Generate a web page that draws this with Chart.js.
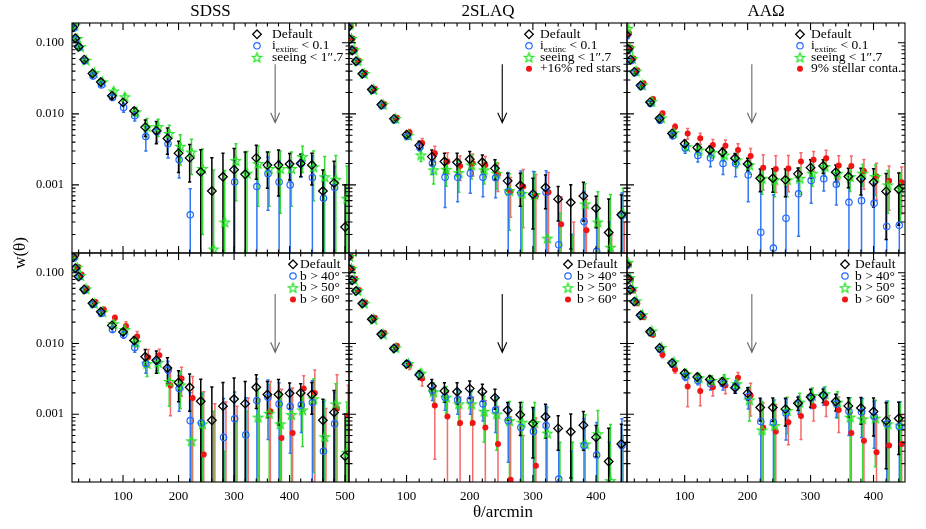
<!DOCTYPE html>
<html>
<head>
<meta charset="utf-8">
<script src="https://cdn.jsdelivr.net/npm/chart.js@4.4.1/dist/chart.umd.min.js"></script>
<style>
  html, body { margin: 0; padding: 0; background: #fff; }
  #wrap { position: relative; width: 926px; height: 529px; }
  #wrap canvas { position: absolute; left: 0; top: 0; }
</style>
</head>
<body>
<div id="wrap"></div>
<script>
// angular bins (arcmin)
const thetaSDSS = [7,10,14,20,30,45,60,80,100,120,140,160,180,200,220,240,260,280,300,320,340,360,380,400,420,440,460,480,500];
const thetaAAT = [7,10,14,20,30,45,60,80,100,120,140,160,180,200,220,240,260,280,300,320,340,360,380,400,420,440];

// SDSS
const sdssDefault = [0.22,0.165,0.116,0.088,0.058,0.037,0.028,0.018,0.0145,0.011,0.0065,0.0058,0.0045,0.0028,0.0024,0.00152,0.00082,0.0013,0.00164,0.00141,0.0024,0.0019,0.0019,0.00197,0.002,0.0019,0.00082,0.00106,0.000255];
const sdssDefaultErr = [0.012,0.008,0.006,0.005,0.003,0.0025,0.002,0.0015,0.0014,0.0012,0.0017,0.002,0.0018,0.0013,0.0013,0.0016,0.0016,0.0015,0.0016,0.0015,0.0012,0.001,0.0012,0.0008,0.0007,0.0009,0.0008,0.0011,0.00075];
const sdssExtinc = [0.21,0.16,0.112,0.086,0.056,0.034,0.0255,0.017,0.0123,0.0094,0.0048,0.0056,0.0038,0.00225,0.00038,null,null,null,0.0011,null,0.00095,0.00144,0.0011,0.001,0.002,0.00127,0.00065,0.00092,null];
const sdssExtincErr = [0.011,0.008,0.006,0.004,0.003,0.002,0.0017,0.0014,0.0018,0.0015,0.0018,0.0016,0.0014,0.001,0.0005,null,null,null,0.0011,null,0.001,0.001,0.0011,0.001,0.0007,0.0013,0.0007,0.0009,null];
const sdssSeeing = [0.2,0.177,0.115,0.088,0.057,0.038,0.0283,0.021,0.0174,0.0107,0.0066,0.0066,0.0053,0.0035,0.0029,0.0017,0.000125,0.0003,0.0022,0.00146,0.002,0.0017,0.0017,0.0017,0.0025,0.0018,0.0013,0.0012,0.00065];
const sdssSeeingErr = [0.012,0.01,0.007,0.005,0.0035,0.0025,0.002,0.0017,0.0017,0.0015,0.002,0.0018,0.0016,0.0016,0.0015,0.0015,0.0015,0.0013,0.0016,0.0015,0.0015,0.0012,0.0013,0.0012,0.001,0.0012,0.0012,0.0014,0.0012];
const sdssB40 = [0.21,0.16,0.115,0.0877,0.0567,0.0355,0.0265,0.0157,0.0133,0.0088,0.0052,0.0056,0.0042,0.0023,0.00081,0.00075,null,0.00047,0.00086,0.00051,0.00156,0.00174,0.00139,0.00128,0.00135,0.00146,0.0003,0.00073,null];
const sdssB40Err = [0.011,0.008,0.006,0.0045,0.003,0.002,0.0016,0.0012,0.0015,0.0013,0.0014,0.0015,0.0014,0.0012,0.0012,0.0012,null,0.0012,0.0012,0.0012,0.0016,0.0013,0.0014,0.001,0.0008,0.0015,0.0012,0.0013,null];
const sdssB50 = [0.22,0.18,0.12,0.091,0.059,0.037,0.028,0.019,0.0157,0.0105,0.0052,0.0054,0.0029,0.0026,0.00042,0.00073,-0.0002,-0.0008,-0.0005,-0.0003,0.00091,0.00103,0.00073,0.00099,0.00115,0.00165,0.00048,0.0014,0.00029];
const sdssB50Err = [0.012,0.01,0.007,0.005,0.0035,0.0025,0.002,0.0017,0.0017,0.0015,0.0018,0.0016,0.0016,0.0014,0.0013,0.0013,0.0013,0.0011,0.0013,0.0014,0.0014,0.0016,0.0013,0.0011,0.0008,0.0015,0.0011,0.0013,0.0012];
const sdssB60 = [0.24,0.18,0.12,0.094,0.06,0.0387,0.0302,0.023,0.0177,0.0125,0.0064,0.0068,0.00255,0.0032,0.0017,0.00027,-0.0003,-0.0002,-0.0004,-0.0001,-0.0002,0.0011,0.00046,0.00054,0.0023,0.002,-0.0004,0.0012,0.00096];
const sdssB60Err = [0.014,0.011,0.008,0.006,0.004,0.0028,0.0022,0.002,0.0025,0.0022,0.0018,0.0015,0.0016,0.0014,0.0017,0.0018,0.0017,0.0017,0.0017,0.0018,0.0018,0.0018,0.0018,0.0018,0.0012,0.0022,0.0016,0.0024,0.0016];

// 2SLAQ
const slaqDefault = [0.165,0.112,0.078,0.055,0.0367,0.022,0.0135,0.0085,0.0051,0.0036,0.0025,0.00213,0.00208,0.0023,0.00208,0.00171,0.00114,0.00098,0.00074,0.00092,0.00063,0.000565,0.0007,0.00047,0.000214,0.00038];
const slaqDefaultErr = [0.008,0.005,0.0035,0.0025,0.0015,0.001,0.0006,0.0004,0.0004,0.0005,0.0006,0.00066,0.0007,0.00064,0.00056,0.00054,0.00032,0.00048,0.0005,0.00046,0.00032,0.00044,0.00039,0.00022,0.00042,0.00034];
const slaqExtinc = [0.165,0.11,0.077,0.054,0.036,0.0215,0.013,0.0082,0.0048,0.0034,0.002,0.00128,0.00128,0.00146,0.00128,0.00126,0.0008,0.00077,0.00074,0.00078,0.000144,-0.0002,0.000305,0.000116,-0.0001,0.00037];
const slaqExtincErr = [0.008,0.005,0.0035,0.0025,0.0015,0.001,0.0006,0.0004,0.0004,0.0004,0.0006,0.0008,0.0007,0.0007,0.0006,0.0006,0.0007,0.0008,0.0008,0.0008,0.0005,0.0004,0.0005,0.0004,0.0004,0.0004];
const slaqSeeing = [0.183,0.115,0.08,0.056,0.037,0.022,0.0136,0.0086,0.005,0.00264,0.00163,0.00166,0.00149,0.00191,0.00163,0.00146,0.00083,0.00076,0.00073,0.000178,-0.0002,-0.0003,0.00054,0.0003,0.000133,0.0004];
const slaqSeeingErr = [0.009,0.006,0.004,0.0028,0.0017,0.0011,0.0007,0.0005,0.0004,0.0005,0.0006,0.0007,0.0007,0.0007,0.0006,0.0006,0.0006,0.0007,0.0008,0.0007,0.0006,0.0005,0.0005,0.0005,0.0006,0.0005];
const slaqRed = [0.17,0.115,0.08,0.056,0.0375,0.0225,0.0138,0.0088,0.0055,0.0039,0.0028,0.00213,0.00185,0.00202,0.00191,0.00141,0.00081,0.00095,0.0007,0.00079,0.00028,-0.0002,0.00023,-0.0002,-0.0003,-0.0001];
const slaqRedErr = [0.008,0.005,0.004,0.0028,0.0017,0.0011,0.0007,0.0005,0.0005,0.0006,0.0007,0.0007,0.0007,0.0007,0.0006,0.0006,0.00046,0.0007,0.0007,0.0007,0.0004,0.0005,0.0004,0.0005,0.0005,0.0004];
const slaqB40 = [0.165,0.112,0.078,0.055,0.0365,0.0218,0.0134,0.0085,0.0052,0.0036,0.00216,0.00174,0.0016,0.0016,0.0014,0.00115,0.00081,0.00065,0.00057,0.00069,0.000121,-0.0002,0.00036,0.000265,-0.0001,0.00036];
const slaqB40Err = [0.008,0.005,0.0035,0.0025,0.0015,0.001,0.0006,0.0004,0.0004,0.0004,0.0006,0.0006,0.0006,0.0006,0.0006,0.0006,0.0006,0.0006,0.0006,0.0006,0.0005,0.0005,0.0005,0.0005,0.0005,0.0005];
const slaqB50 = [0.17,0.115,0.08,0.056,0.037,0.022,0.0136,0.0087,0.0052,0.0038,0.00207,0.00174,0.0014,0.0014,0.0011,0.00101,0.00081,0.00077,0.00076,0.00054,-0.0002,-0.0002,0.00038,0.00053,0.000115,-0.0001];
const slaqB50Err = [0.009,0.006,0.004,0.0028,0.0017,0.0011,0.0007,0.0005,0.0004,0.0005,0.0007,0.0007,0.0007,0.0007,0.0007,0.0007,0.0007,0.0007,0.0007,0.0007,0.0006,0.0006,0.0006,0.0006,0.0006,0.0006];
const slaqB60 = [0.17,0.115,0.082,0.057,0.038,0.023,0.0142,0.0093,0.0049,0.0032,0.00133,0.00093,0.00075,0.00075,0.00065,0.00038,0.000118,-0.0003,0.000187,null,null,null,null,null,null,null];
const slaqB60Err = [0.009,0.006,0.004,0.003,0.0018,0.0012,0.0008,0.0006,0.0006,0.0007,0.0011,0.0011,0.001,0.001,0.0009,0.0009,0.0008,0.0008,0.0007,null,null,null,null,null,null,null];

// AAOmega
const aaoDefault = [0.13,0.082,0.058,0.039,0.025,0.0146,0.0086,0.0053,0.0038,0.00335,0.0031,0.00288,0.00237,0.00197,0.00124,0.00124,0.00118,0.00143,0.00175,0.00185,0.00151,0.00131,0.00122,0.00109,0.00081,0.00087];
const aaoDefaultErr = [0.006,0.004,0.003,0.002,0.0012,0.0007,0.0004,0.0003,0.0004,0.0004,0.0004,0.0004,0.0004,0.0004,0.00044,0.00045,0.0005,0.0003,0.0005,0.0004,0.0004,0.0004,0.0005,0.0006,0.00064,0.0006];
const aaoExtinc = [0.125,0.08,0.056,0.038,0.0242,0.014,0.0081,0.0049,0.0033,0.0026,0.0024,0.002,0.002,0.00138,0.000216,0.000129,0.00034,0.00075,0.00115,0.00122,0.00102,0.00057,0.0006,0.00055,0.00026,0.00027];
const aaoExtincErr = [0.006,0.004,0.003,0.002,0.0012,0.0007,0.0005,0.0004,0.0005,0.0005,0.0006,0.0006,0.0007,0.0008,0.0006,0.0006,0.0006,0.00056,0.0006,0.0004,0.0005,0.0005,0.0006,0.0005,0.0005,0.0005];
const aaoSeeing = [0.16,0.085,0.06,0.04,0.0255,0.015,0.0088,0.0054,0.00346,0.0031,0.00288,0.00264,0.00225,0.00191,0.00124,0.00118,0.00118,0.00124,0.00146,0.00181,0.00146,0.00131,0.00146,0.00131,0.001,0.0009];
const aaoSeeingErr = [0.008,0.005,0.003,0.002,0.0013,0.0008,0.0005,0.0004,0.0004,0.0005,0.0005,0.0005,0.0005,0.0005,0.0005,0.0005,0.0005,0.0005,0.0005,0.0005,0.0005,0.0005,0.0005,0.0006,0.0006,0.0006];
const aaoStellar = [0.135,0.085,0.06,0.041,0.027,0.0162,0.0102,0.0066,0.0053,0.00453,0.00365,0.00357,0.0031,0.00256,0.00175,0.00168,0.0017,0.00213,0.00225,0.00237,0.00187,0.00185,0.00157,0.00131,0.00114,0.00109];
const aaoStellarErr = [0.007,0.005,0.0035,0.0025,0.0015,0.0009,0.0006,0.0006,0.0009,0.0008,0.0007,0.0007,0.0007,0.0007,0.0009,0.0009,0.0009,0.0007,0.0007,0.0007,0.0007,0.0007,0.0007,0.0007,0.0007,0.0007];
const aaoB40 = [0.125,0.082,0.058,0.039,0.0248,0.0143,0.0083,0.0051,0.0034,0.003,0.0027,0.0027,0.00247,0.00178,0.00079,0.00077,0.00103,0.0014,0.0017,0.00184,0.0014,0.0011,0.00107,0.00093,0.00073,0.00067];
const aaoB40Err = [0.006,0.004,0.003,0.002,0.0012,0.0007,0.0004,0.0003,0.0004,0.0004,0.0005,0.0005,0.0005,0.0006,0.0008,0.0008,0.0006,0.0004,0.0005,0.0005,0.0005,0.0006,0.0006,0.0006,0.0008,0.0008];
const aaoB50 = [0.14,0.085,0.06,0.04,0.0255,0.015,0.0088,0.0055,0.0037,0.00327,0.003,0.0031,0.0027,0.0016,0.0006,0.00069,0.00113,0.00148,0.00184,0.00194,0.00148,0.00091,0.00086,0.00088,0.00073,0.0007];
const aaoB50Err = [0.007,0.005,0.003,0.002,0.0013,0.0008,0.0005,0.0004,0.0004,0.0005,0.0005,0.0005,0.0005,0.0008,0.0009,0.0009,0.0006,0.0005,0.0005,0.0005,0.0006,0.0008,0.0008,0.0007,0.0008,0.0008];
const aaoB60 = [0.13,0.08,0.056,0.037,0.0235,0.0133,0.0069,0.0043,0.00247,0.00212,0.00241,0.00255,0.00327,0.00184,0.00065,0.00057,0.00077,0.00094,0.0013,0.00143,0.00115,0.00054,0.00042,0.00029,0.00036,0.00038];
const aaoB60Err = [0.007,0.005,0.0035,0.0025,0.0015,0.0009,0.0006,0.0005,0.0012,0.0008,0.0006,0.0006,0.0006,0.0009,0.0008,0.0008,0.0004,0.0005,0.0005,0.0005,0.0006,0.0005,0.0007,0.0006,0.0006,0.0006];

// axes
const xTickValues = [100, 200, 300, 400, 500];
const yTickValues = [0.001, 0.01, 0.1];
const yTickLabels = ['0.001', '0.010', '0.100'];
const yMin = 1.1e-4, yMax = 0.19;
// scale marked by the arrows: top and bottom of the arrow in w
const arrowTop = 0.05, arrowBottom = 0.0075;

const serif = "'Liberation Serif', 'DejaVu Serif', serif";
Chart.defaults.font.family = serif;
Chart.defaults.color = '#000';

const cols = [[72, 349], [349, 627], [627, 905]];
const rows = [[23, 253], [253, 482]];

function makeStar(color) {
  const c = document.createElement('canvas');
  c.width = 13; c.height = 13;
  const g = c.getContext('2d');
  g.strokeStyle = color; g.lineWidth = 1.2; g.lineJoin = 'miter';
  g.beginPath();
  for (let k = 0; k < 10; k++) {
    const r = k % 2 ? 2.1 : 5.0;
    const a = -Math.PI / 2 + k * Math.PI / 5;
    const px = 6.5 + r * Math.cos(a), py = 7 + r * Math.sin(a);
    if (k === 0) g.moveTo(px, py); else g.lineTo(px, py);
  }
  g.closePath(); g.stroke();
  return c;
}
const starImg = makeStar('#1ee41e');

const styles = {
  def:   {shape: 'rectRot', r: 4.3, stroke: '#000', fill: 'rgba(0,0,0,0)', lw: 1.3, err: '#000', dodge: 0},
  blue:  {shape: 'circle', r: 3.2, stroke: '#2266ff', fill: 'rgba(0,0,0,0)', lw: 1.2, err: '#3377f2', dodge: 0.6},
  green: {shape: starImg, r: 5, stroke: '#1ee41e', fill: 'rgba(0,0,0,0)', lw: 1.2, err: '#33dd33', dodge: 1.8},
  red:   {shape: 'circle', r: 3.0, stroke: '#f01414', fill: '#f01414', lw: 0, err: 'rgba(244,80,80,0.85)', dodge: 3}
};

const topLeg = {dy: 11.5, y: 34.3};
const botLeg = {dy: 11.7, y: 264.3};

const panels = [
  {survey: 'SDSS', row: 0, col: 0, theta: thetaSDSS, xr: [8.1, 507], arrowX: 374, arrowColor: '#666',
   leg: {sx: 257, tx: 272, ...topLeg},
   series: [
     {label: 'Default', w: sdssDefault, e: sdssDefaultErr, style: 'def'},
     {label: 'i_{extinc} < 0.1', w: sdssExtinc, e: sdssExtincErr, style: 'blue'},
     {label: 'seeing < 1\u2033.7', w: sdssSeeing, e: sdssSeeingErr, style: 'green'}]},
  {survey: '2SLAQ', row: 0, col: 1, theta: thetaAAT, xr: [8.9, 449], arrowX: 251.5, arrowColor: '#000',
   leg: {sx: 529, tx: 540, ...topLeg},
   series: [
     {label: 'Default', w: slaqDefault, e: slaqDefaultErr, style: 'def'},
     {label: 'i_{extinc} < 0.1', w: slaqExtinc, e: slaqExtincErr, style: 'blue'},
     {label: 'seeing < 1\u2033.7', w: slaqSeeing, e: slaqSeeingErr, style: 'green'},
     {label: '+16% red stars', w: slaqRed, e: slaqRedErr, style: 'red'}]},
  {survey: 'AA\u03A9', row: 0, col: 2, theta: thetaAAT, xr: [8.4, 450], arrowX: 206.7, arrowColor: '#666',
   leg: {sx: 800, tx: 811, ...topLeg},
   series: [
     {label: 'Default', w: aaoDefault, e: aaoDefaultErr, style: 'def'},
     {label: 'i_{extinc} < 0.1', w: aaoExtinc, e: aaoExtincErr, style: 'blue'},
     {label: 'seeing < 1\u2033.7', w: aaoSeeing, e: aaoSeeingErr, style: 'green'},
     {label: '9% stellar conta.', w: aaoStellar, e: aaoStellarErr, style: 'red'}]},
  {survey: 'SDSS', row: 1, col: 0, theta: thetaSDSS, xr: [8.1, 507], arrowX: 374, arrowColor: '#666',
   leg: {sx: 293, tx: 300, ...botLeg}, yTitle: 'w(\u03B8)',
   series: [
     {label: 'Default', w: sdssDefault, e: sdssDefaultErr, style: 'def'},
     {label: 'b > 40\u00B0', w: sdssB40, e: sdssB40Err, style: 'blue'},
     {label: 'b > 50\u00B0', w: sdssB50, e: sdssB50Err, style: 'green'},
     {label: 'b > 60\u00B0', w: sdssB60, e: sdssB60Err, style: 'red'}]},
  {survey: '2SLAQ', row: 1, col: 1, theta: thetaAAT, xr: [8.9, 449], arrowX: 251.5, arrowColor: '#000',
   leg: {sx: 568, tx: 577, ...botLeg}, xTitle: '\u03B8/arcmin',
   series: [
     {label: 'Default', w: slaqDefault, e: slaqDefaultErr, style: 'def'},
     {label: 'b > 40\u00B0', w: slaqB40, e: slaqB40Err, style: 'blue'},
     {label: 'b > 50\u00B0', w: slaqB50, e: slaqB50Err, style: 'green'},
     {label: 'b > 60\u00B0', w: slaqB60, e: slaqB60Err, style: 'red'}]},
  {survey: 'AA\u03A9', row: 1, col: 2, theta: thetaAAT, xr: [8.4, 450], arrowX: 206.7, arrowColor: '#666',
   leg: {sx: 845, tx: 855, ...botLeg},
   series: [
     {label: 'Default', w: aaoDefault, e: aaoDefaultErr, style: 'def'},
     {label: 'b > 40\u00B0', w: aaoB40, e: aaoB40Err, style: 'blue'},
     {label: 'b > 50\u00B0', w: aaoB50, e: aaoB50Err, style: 'green'},
     {label: 'b > 60\u00B0', w: aaoB60, e: aaoB60Err, style: 'red'}]}
];

// error bars, drawn under the markers
const errorBars = {
  id: 'errorBars',
  beforeDatasetsDraw(chart) {
    const {ctx, chartArea: a, scales: {x, y}} = chart;
    ctx.save();
    ctx.beginPath(); ctx.rect(a.left, a.top, a.right - a.left, a.bottom - a.top); ctx.clip();
    for (let i = chart.data.datasets.length - 1; i >= 0; i--) {
      const ds = chart.data.datasets[i];
      ctx.strokeStyle = ds.errColor;
      ctx.lineWidth = 1.5;
      ds.raw.forEach(r => {
        const px = x.getPixelForValue(r.x);
        const hi = r.w + r.e, lo = r.w - r.e;
        const yHi = hi > 0 ? y.getPixelForValue(hi) : a.bottom + 5;
        const yLo = lo > 0 ? y.getPixelForValue(lo) : a.bottom + 5;
        ctx.beginPath();
        ctx.moveTo(px, yHi); ctx.lineTo(px, yLo);
        ctx.moveTo(px - 1.6, yHi); ctx.lineTo(px + 1.6, yHi);
        if (lo > 0) { ctx.moveTo(px - 1.6, yLo); ctx.lineTo(px + 1.6, yLo); }
        ctx.stroke();
      });
    }
    ctx.restore();
  }
};

function drawSymbol(ctx, st, x, y) {
  ctx.save();
  ctx.lineWidth = st.lw; ctx.strokeStyle = st.stroke; ctx.fillStyle = st.fill;
  if (st.shape === 'rectRot') {
    ctx.beginPath();
    ctx.moveTo(x, y - st.r); ctx.lineTo(x + st.r, y); ctx.lineTo(x, y + st.r); ctx.lineTo(x - st.r, y);
    ctx.closePath(); ctx.stroke();
  } else if (st.shape === 'circle') {
    ctx.beginPath(); ctx.arc(x, y, st.r, 0, 2 * Math.PI);
    if (st.lw > 0) ctx.stroke(); else ctx.fill();
  } else {
    ctx.drawImage(st.shape, x - st.shape.width / 2, y - st.shape.height / 2);
  }
  ctx.restore();
}

function drawRich(ctx, text, x, y, size) {
  text.split(/(_\{[^}]*\})/).filter(Boolean).forEach(pt => {
    if (pt.startsWith('_{')) {
      const s = pt.slice(2, -1);
      ctx.font = (size * 0.68) + 'px ' + serif;
      ctx.fillText(s, x, y + size * 0.3);
      x += ctx.measureText(s).width;
    } else {
      ctx.font = size + 'px ' + serif;
      ctx.fillText(pt, x, y);
      x += ctx.measureText(pt).width;
    }
  });
}

function makeDecor(p) {
  return {
    id: 'decor',
    afterDraw(chart) {
      const {ctx, chartArea: a, scales: {x, y}} = chart;
      ctx.save();
      // arrow
      const ax = x.getPixelForValue(p.arrowX);
      const y1 = y.getPixelForValue(arrowTop), y2 = y.getPixelForValue(arrowBottom);
      ctx.strokeStyle = p.arrowColor; ctx.lineWidth = 1.1;
      ctx.beginPath();
      ctx.moveTo(ax, y1); ctx.lineTo(ax, y2);
      ctx.moveTo(ax - 4.5, y2 - 10); ctx.lineTo(ax, y2); ctx.lineTo(ax + 4.5, y2 - 10);
      ctx.stroke();

      // frame with inward ticks on all sides
      ctx.strokeStyle = '#000'; ctx.lineWidth = 1.1;
      ctx.strokeRect(a.left, a.top, a.right - a.left, a.bottom - a.top);
      ctx.beginPath();
      for (let v = Math.ceil(x.min / 20) * 20; v <= x.max; v += 20) {
        const px = x.getPixelForValue(v);
        const len = v % 100 === 0 ? 7 : 3.5;
        ctx.moveTo(px, a.bottom); ctx.lineTo(px, a.bottom - len);
        ctx.moveTo(px, a.top); ctx.lineTo(px, a.top + len);
      }
      for (let d = -4; d <= -1; d++) {
        for (let k = 1; k <= 9; k++) {
          const v = k * Math.pow(10, d);
          if (v < y.min || v > y.max) continue;
          const py = y.getPixelForValue(v);
          const len = k === 1 ? 7 : 3.5;
          ctx.moveTo(a.left, py); ctx.lineTo(a.left + len, py);
          ctx.moveTo(a.right, py); ctx.lineTo(a.right - len, py);
        }
      }
      ctx.stroke();

      // legend
      ctx.fillStyle = '#000'; ctx.textBaseline = 'middle'; ctx.textAlign = 'left';
      p.series.forEach((s, i) => {
        const ly = p.leg.y + i * p.leg.dy;
        drawSymbol(ctx, styles[s.style], p.leg.sx, ly);
        ctx.fillStyle = '#000';
        drawRich(ctx, s.label, p.leg.tx, ly, 13.5);
      });

      // axis titles
      ctx.font = '17px ' + serif;
      ctx.textAlign = 'center';
      if (p.xTitle) ctx.fillText(p.xTitle, 503, 513);
      if (p.yTitle) {
        ctx.translate(21, 253); ctx.rotate(-Math.PI / 2);
        ctx.fillText(p.yTitle, 0, 0);
      }
      ctx.restore();
    }
  };
}

const wrap = document.getElementById('wrap');
panels.forEach(p => {
  const cv = document.createElement('canvas');
  cv.width = 926; cv.height = 529;
  wrap.appendChild(cv);
  const [x0, x1] = cols[p.col], [y0, y1] = rows[p.row];
  const unitsPerPx = (p.xr[1] - p.xr[0]) / (x1 - x0);

  const datasets = p.series.map(s => {
    const st = styles[s.style];
    const pts = [], raw = [];
    p.theta.forEach((t, i) => {
      const w = s.w[i];
      if (w === null || w === undefined) return;
      const xv = t + st.dodge * unitsPerPx;
      raw.push({x: xv, w: w, e: s.e[i]});
      if (w > 0) pts.push({x: xv, y: w});
    });
    return {
      label: s.label, data: pts, raw: raw, errColor: st.err,
      showLine: false, clip: 0,
      pointStyle: st.shape, pointRadius: st.r, pointHoverRadius: st.r,
      pointBorderColor: st.stroke, pointBackgroundColor: st.fill, pointBorderWidth: st.lw
    };
  });

  new Chart(cv, {
    type: 'scatter',
    data: {datasets},
    options: {
      responsive: false, animation: false, events: [], devicePixelRatio: 1,
      layout: {padding: {
        left: p.col === 0 ? 0 : x0,
        right: 926 - x1,
        top: p.row === 0 ? 0 : y0,
        bottom: p.row === 1 ? 0 : 529 - y1
      }},
      plugins: {
        legend: {display: false},
        tooltip: {enabled: false},
        title: {display: p.row === 0, text: p.survey, fullSize: false, color: '#000',
                font: {family: serif, size: 17, weight: 'normal'}, padding: {top: 1, bottom: 1.6}}
      },
      scales: {
        x: {
          type: 'linear', min: p.xr[0], max: p.xr[1],
          grid: {display: false, drawTicks: false}, border: {display: false},
          ticks: {display: p.row === 1, color: '#000', font: {family: serif, size: 13},
                  padding: 7, maxRotation: 0, autoSkip: false},
          afterBuildTicks: s => { s.ticks = xTickValues.filter(v => v >= s.min && v <= s.max).map(v => ({value: v})); },
          afterFit: s => { s.height = p.row === 1 ? 529 - y1 : 0; }
        },
        y: {
          type: 'logarithmic', min: yMin, max: yMax,
          grid: {display: false, drawTicks: false}, border: {display: false},
          ticks: {display: p.col === 0, color: '#000', font: {family: serif, size: 12.5},
                  padding: 8, autoSkip: false,
                  callback: v => yTickLabels[yTickValues.indexOf(v)]},
          afterBuildTicks: s => { s.ticks = yTickValues.map(v => ({value: v})); },
          afterFit: s => { s.width = p.col === 0 ? 72 : 0; }
        }
      }
    },
    plugins: [errorBars, makeDecor(p)]
  });
});
</script>
</body>
</html>
